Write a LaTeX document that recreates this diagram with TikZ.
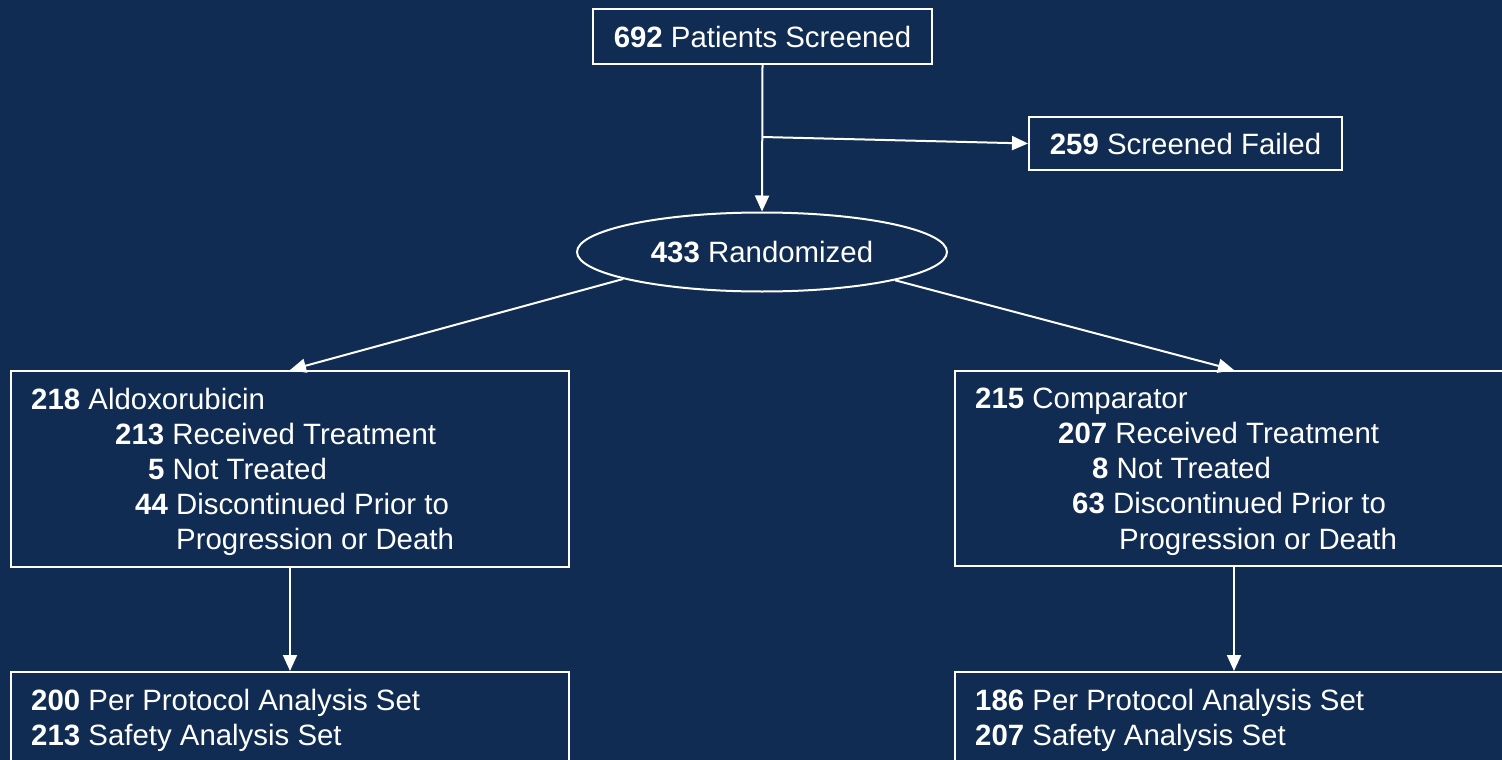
\documentclass[tikz,border=0pt]{standalone}
\usepackage{fontspec}
\setmainfont{Liberation Sans}
\usetikzlibrary{arrows.meta,shapes.geometric}
\definecolor{bg}{RGB}{16,44,82}
\begin{document}
\begin{tikzpicture}[x=1pt,y=-1pt,
  box/.style={draw=white,line width=2pt,rectangle,inner sep=0pt,text=white,font=\fontsize{29.4}{35}\selectfont},
  lbl/.style={anchor=base west,inner sep=0pt,text=white,font=\fontsize{29.4}{35}\selectfont},
  arr/.style={draw=white,line width=2pt,-{Triangle[length=16pt,width=14pt]}}]
\fill[bg] (0,0) rectangle (1502,760);
\useasboundingbox (0,0) rectangle (1502,760);

% nodes
\node[box,minimum width=339pt,minimum height=55pt] (scr) at (762.5,36.5) {\textbf{692} Patients Screened};
\node[box,minimum width=313pt,minimum height=53pt] (fail) at (1185.5,143.5) {\textbf{259} Screened Failed};
\node[box,ellipse,minimum width=370pt,minimum height=79pt] (rand) at (762,252) {\textbf{433} Randomized};

\node[box,minimum width=558pt,minimum height=196pt] (lbox) at (290,469) {};
\node[box,minimum width=558pt,minimum height=195pt] (rbox) at (1234,468.5) {};
\node[box,minimum width=558pt,minimum height=130pt] (lbot) at (290,737) {};
\node[box,minimum width=558pt,minimum height=130pt] (rbot) at (1234,737) {};

% left arm texts
\node[lbl] (l1) at (31,409) {\textbf{218} Aldoxorubicin};
\node[lbl] (l2) at (115,444) {\textbf{213} Received Treatment};
\node[lbl] (l3) at (148,479) {\textbf{5} Not Treated};
\node[lbl] (l4) at (135,514) {\textbf{44} Discontinued Prior to};
\node[lbl] (l5) at (176,549) {Progression or Death};
% right arm texts
\node[lbl] (r1) at (975,408) {\textbf{215} Comparator};
\node[lbl] (r2) at (1058,443) {\textbf{207} Received Treatment};
\node[lbl] (r3) at (1092,478) {\textbf{8} Not Treated};
\node[lbl] (r4) at (1072,513) {\textbf{63} Discontinued Prior to};
\node[lbl] (r5) at (1119,549) {Progression or Death};
% analysis sets
\node[lbl] (lb1) at (31,710) {\textbf{200} Per Protocol Analysis Set};
\node[lbl] (lb2) at (31,745) {\textbf{213} Safety Analysis Set};
\node[lbl] (rb1) at (975,710) {\textbf{186} Per Protocol Analysis Set};
\node[lbl] (rb2) at (975,745) {\textbf{207} Safety Analysis Set};

% connectors
\coordinate (br) at (762.5,137);
\draw[arr] (scr.south) -- (rand.north);
\draw[arr] (br) -- (fail.west);
\draw[arr] (rand.191) -- (lbox.north);
\draw[arr] (rand.348) -- (rbox.north);
\draw[arr] (lbox.south) -- (lbot.north);
\draw[arr] (rbox.south) -- (rbot.north);
\end{tikzpicture}
\end{document}
